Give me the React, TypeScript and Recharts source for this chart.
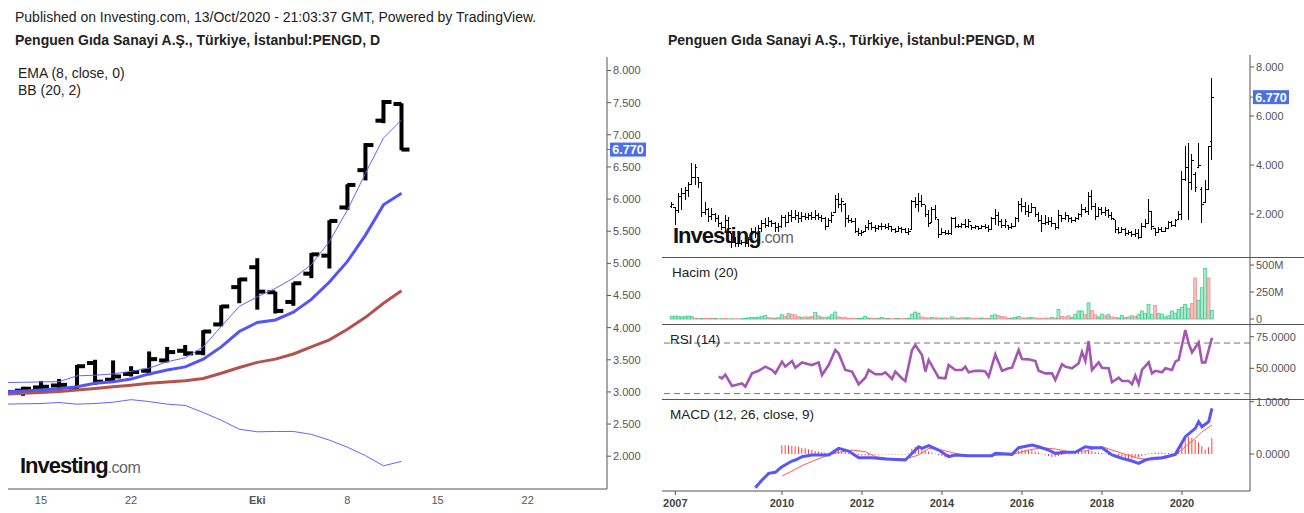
import { Bar, ComposedChart, Line, ReferenceLine, XAxis, YAxis } from "recharts";

const FONT = '"Liberation Sans", Arial, Helvetica, sans-serif';
const AXIS = "#555";
const TICK = "#555";

// ---- daily chart (left), index 0 = 11 Sep 2020 ----
const dayOpen = [3.00, 3.02, 3.07, 3.10, 3.05, 3.45, 3.19, 3.28, 3.33, 3.49, 3.64, 3.61, 4.05, 4.63, 4.94, 4.55, 4.40, 4.84, 5.12, 5.87, 6.45, 7.22, 7.48];
const dayHigh = [3.02, 3.08, 3.17, 3.20, 3.42, 3.50, 3.49, 3.40, 3.63, 3.70, 3.73, 3.96, 4.35, 4.77, 5.08, 4.56, 4.70, 5.16, 5.67, 6.23, 6.87, 7.54, 7.49];
const dayLow = [2.98, 2.94, 2.98, 3.02, 3.02, 3.11, 3.14, 3.24, 3.26, 3.46, 3.56, 3.57, 4.02, 4.38, 4.28, 4.22, 4.34, 4.77, 4.92, 5.83, 6.29, 7.18, 6.76];
const dayClose = [3.00, 3.05, 3.08, 3.11, 3.40, 3.16, 3.24, 3.31, 3.51, 3.62, 3.60, 3.94, 4.33, 4.75, 4.56, 4.26, 4.69, 5.14, 5.66, 6.22, 6.84, 7.51, 6.77];
const ema8 = [3.00, 3.015, 3.03, 3.05, 3.08, 3.135, 3.16, 3.20, 3.28, 3.34, 3.39, 3.51, 3.70, 3.94, 4.08, 4.12, 4.24, 4.44, 4.71, 5.03, 5.44, 5.91, 6.09];
const bbUpper = [3.145, 3.15, 3.155, 3.16, 3.25, 3.26, 3.28, 3.32, 3.37, 3.47, 3.53, 3.70, 4.02, 4.33, 4.48, 4.61, 4.77, 4.98, 5.34, 5.83, 6.40, 6.95, 7.23];
const bbBasis = [2.965, 2.98, 2.99, 3.005, 3.03, 3.055, 3.08, 3.105, 3.135, 3.155, 3.175, 3.21, 3.29, 3.38, 3.46, 3.51, 3.59, 3.70, 3.81, 3.975, 4.16, 4.38, 4.575];
const bbLower = [2.81, 2.815, 2.82, 2.835, 2.81, 2.82, 2.84, 2.88, 2.85, 2.81, 2.79, 2.68, 2.56, 2.42, 2.38, 2.385, 2.385, 2.34, 2.25, 2.14, 2.01, 1.85, 1.92];
const dayTickIdx = [2, 7, 14, 19, 24, 29];
const dayTickLabel = ["15", "22", "Eki", "8", "15", "22"];
const dayPriceTicks = [2, 2.5, 3, 3.5, 4, 4.5, 5, 5.5, 6, 6.5, 7, 7.5, 8];

// ---- monthly chart (right), index 0 = Apr 2007 ----
const mOpen = [
  2.30, 2.28, 2.15, 2.70, 2.85, 2.95, 3.20, 3.50, 3.50, 3.30,
  2.05, 2.20, 1.90, 2.00, 1.80, 1.60, 1.45, 1.75, 1.20, 0.85,
  0.80, 0.78, 0.85, 0.80, 0.95, 1.30, 1.21, 1.40, 1.60, 1.55,
  1.70, 1.60, 1.45, 1.50, 1.85, 1.65, 1.95, 1.85, 1.95, 1.80,
  1.90, 1.85, 1.95, 1.85, 1.95, 1.85, 1.80, 1.50, 1.75, 2.05,
  2.60, 2.40, 2.40, 1.80, 1.75, 1.70, 1.30, 1.20, 1.30, 1.45,
  1.60, 1.45, 1.42, 1.48, 1.50, 1.45, 1.48, 1.35, 1.30, 1.40,
  1.35, 1.25, 1.35, 2.50, 2.40, 2.50, 2.37, 2.00, 1.65, 2.20,
  1.76, 1.15, 1.25, 1.20, 1.22, 1.80, 1.50, 1.48, 1.58, 1.50,
  1.55, 1.45, 1.48, 1.40, 1.50, 1.45, 1.35, 1.80, 1.95, 1.70,
  1.55, 1.55, 1.45, 1.50, 1.80, 2.40, 2.30, 2.10, 2.05, 2.25,
  2.00, 1.75, 1.60, 1.65, 1.70, 1.60, 1.45, 1.95, 1.80, 1.95,
  1.80, 1.75, 1.80, 2.00, 2.20, 2.10, 2.70, 2.30, 1.90, 2.20,
  2.05, 2.15, 1.95, 1.76, 1.35, 1.25, 1.35, 1.20, 1.25, 1.15,
  1.20, 1.05, 1.50, 1.62, 2.10, 1.42, 1.25, 1.35, 1.30, 1.40,
  1.65, 1.55, 1.76, 2.00, 3.40, 3.90, 3.30, 3.60, 3.90, 3.00,
  2.45, 3.00, 4.94,
];
const mHigh = [
  2.50, 2.30, 2.84, 3.05, 3.11, 3.32, 4.07, 4.03, 3.52, 3.32,
  2.50, 2.23, 2.23, 2.03, 1.96, 1.69, 1.96, 1.89, 1.21, 1.07,
  0.95, 0.95, 1.14, 1.07, 1.42, 1.48, 1.55, 1.76, 1.83, 1.89,
  1.76, 1.69, 1.62, 1.96, 1.96, 2.09, 2.16, 2.16, 2.09, 2.09,
  2.03, 2.03, 2.09, 2.16, 2.03, 1.96, 1.89, 1.83, 2.09, 2.78,
  2.84, 2.64, 2.44, 1.96, 1.83, 1.83, 1.42, 1.35, 1.55, 1.76,
  1.69, 1.55, 1.55, 1.62, 1.58, 1.62, 1.48, 1.42, 1.52, 1.48,
  1.42, 1.42, 2.57, 2.71, 2.84, 2.78, 2.37, 2.16, 2.30, 2.37,
  1.76, 1.42, 1.35, 1.35, 1.87, 1.87, 1.58, 1.62, 1.80, 1.80,
  1.55, 1.55, 1.52, 1.55, 1.58, 1.55, 1.89, 2.20, 2.10, 1.80,
  1.80, 1.55, 1.62, 1.87, 2.54, 2.64, 2.50, 2.37, 2.44, 2.30,
  2.10, 1.96, 1.96, 1.87, 1.87, 1.62, 2.16, 1.96, 2.10, 1.96,
  1.89, 1.89, 2.05, 2.41, 2.30, 2.91, 2.98, 2.44, 2.30, 2.30,
  2.30, 2.20, 2.10, 1.76, 1.48, 1.48, 1.42, 1.35, 1.30, 1.37,
  1.37, 1.62, 1.80, 2.60, 2.14, 1.42, 1.45, 1.48, 1.45, 1.73,
  1.70, 1.80, 2.14, 3.77, 4.78, 4.91, 4.45, 3.70, 4.89, 3.11,
  3.39, 4.77, 7.54,
];
const mLow = [
  2.23, 1.55, 2.03, 2.16, 2.57, 2.71, 3.18, 3.18, 3.05, 1.89,
  1.96, 1.69, 1.76, 1.69, 1.48, 1.35, 1.28, 1.21, 0.60, 0.67,
  0.67, 0.72, 0.67, 0.67, 0.94, 1.01, 1.21, 1.28, 1.42, 1.48,
  1.48, 1.28, 1.28, 1.42, 1.48, 1.62, 1.69, 1.76, 1.62, 1.69,
  1.76, 1.76, 1.76, 1.76, 1.76, 1.69, 1.35, 1.48, 1.62, 2.03,
  2.23, 2.09, 1.48, 1.62, 1.62, 1.21, 1.10, 1.10, 1.28, 1.35,
  1.35, 1.28, 1.35, 1.35, 1.38, 1.35, 1.28, 1.21, 1.28, 1.24,
  1.21, 1.14, 1.35, 2.23, 2.09, 2.30, 1.89, 1.48, 1.62, 1.76,
  1.01, 1.14, 1.14, 1.14, 1.14, 1.42, 1.42, 1.44, 1.42, 1.42,
  1.35, 1.38, 1.35, 1.40, 1.40, 1.28, 1.35, 1.55, 1.50, 1.42,
  1.42, 1.35, 1.40, 1.48, 1.69, 2.10, 1.96, 1.89, 2.03, 1.89,
  1.69, 1.28, 1.55, 1.55, 1.48, 1.35, 1.37, 1.69, 1.76, 1.69,
  1.62, 1.69, 1.75, 1.87, 2.03, 1.96, 2.16, 1.76, 1.90, 1.95,
  1.90, 1.85, 1.76, 1.24, 1.19, 1.25, 1.10, 1.15, 1.06, 1.06,
  1.00, 1.01, 1.42, 1.62, 1.35, 1.10, 1.25, 1.28, 1.25, 1.39,
  1.45, 1.48, 1.76, 1.76, 3.36, 1.76, 2.98, 2.90, 3.87, 1.65,
  2.44, 2.98, 4.22,
];
const mClose = [
  2.38, 2.15, 2.70, 2.85, 2.95, 3.20, 3.50, 3.90, 3.30, 2.05,
  2.20, 1.90, 2.00, 1.80, 1.60, 1.45, 1.75, 1.40, 0.85, 0.80,
  0.78, 0.85, 0.80, 0.95, 1.30, 1.20, 1.40, 1.60, 1.55, 1.70,
  1.60, 1.45, 1.50, 1.85, 1.65, 1.95, 1.85, 1.95, 1.80, 1.90,
  1.85, 1.95, 1.85, 1.95, 1.85, 1.80, 1.50, 1.75, 1.95, 2.60,
  2.40, 2.50, 1.80, 1.75, 1.70, 1.30, 1.20, 1.25, 1.45, 1.60,
  1.45, 1.42, 1.48, 1.50, 1.45, 1.50, 1.35, 1.30, 1.40, 1.35,
  1.25, 1.30, 2.50, 2.40, 2.50, 2.40, 2.00, 1.60, 2.20, 1.85,
  1.15, 1.25, 1.20, 1.22, 1.80, 1.50, 1.48, 1.58, 1.50, 1.70,
  1.45, 1.48, 1.40, 1.50, 1.45, 1.35, 1.80, 1.95, 1.70, 1.55,
  1.70, 1.45, 1.50, 1.80, 2.40, 2.30, 2.10, 2.05, 2.25, 2.00,
  1.75, 1.60, 1.65, 1.70, 1.60, 1.45, 1.95, 1.80, 1.95, 1.80,
  1.75, 1.80, 2.00, 2.20, 2.10, 2.70, 2.30, 1.90, 2.20, 2.05,
  2.15, 1.95, 1.80, 1.35, 1.25, 1.35, 1.20, 1.25, 1.15, 1.20,
  1.05, 1.50, 1.60, 2.10, 1.50, 1.25, 1.35, 1.30, 1.40, 1.65,
  1.55, 1.75, 2.00, 3.40, 3.90, 3.30, 4.20, 3.10, 4.00, 2.40,
  3.00, 4.75, 6.77,
];
// volume in millions, G = green bar, R = red bar
const mVolume = [
  25, 28, 22, 20, 25, 28, 22, 8, 6, 5,
  6, 5, 4, 5, 3, 3, 4, 2, 3, 3,
  2, 3, 4, 12, 15, 14, 18, 22, 35, 14,
  10, 8, 15, 40, 25, 50, 42, 38, 22, 15,
  20, 18, 25, 60, 30, 18, 15, 20, 40, 65,
  20, 15, 18, 8, 6, 5, 5, 8, 25, 10,
  8, 5, 8, 15, 5, 4, 3, 4, 5, 3,
  4, 6, 45, 65, 55, 20, 12, 10, 15, 12,
  10, 8, 10, 8, 20, 10, 8, 12, 10, 12,
  8, 6, 8, 10, 6, 5, 30, 40, 32, 25,
  20, 8, 10, 15, 25, 12, 10, 12, 15, 10,
  8, 6, 10, 8, 15, 10, 90, 25, 20, 30,
  15, 40, 75, 75, 40, 150, 80, 40, 20, 45,
  30, 40, 20, 15, 10, 35, 15, 20, 30, 25,
  40, 75, 50, 135, 40, 125, 50, 45, 20, 30,
  75, 55, 90, 110, 135, 100, 145, 380, 175, 290,
  470, 380, 80,
];
const mVolumeSide =
  "GGGGGGGRRG" + "RRRGRGRRGR" + "RGGGGGGGGR" + "RGRGRGRRRG" + "RGRGRGRGGG" +
  "RRRRRRGGGG" + "RRGGRGRRGR" + "RGGGGRRRGR" + "RGRRGRGRGG" + "RRRGRRGGRR" +
  "RRGGGRRGGR" + "RRRRGRGRRR" + "GGGGRGRRGG" + "RGRRGGGRGR" + "GGGGGRGGGG" +
  "GGGGGGRRGG" + "GRG";

const rsiMonth = [14, 15, 16, 18, 20, 21, 22, 24, 26, 28, 30, 31, 33, 34, 36, 37, 39, 41, 42, 44, 45, 47, 49, 50, 52, 54, 56, 58, 59, 61, 63, 64, 66, 67, 69, 70, 72, 73, 75, 76, 77, 80, 82, 83, 85, 87, 88, 89, 91, 93, 94, 95, 97, 99, 101, 102, 104, 105, 107, 109, 110, 112, 114, 115, 117, 118, 120, 122, 123, 124, 125, 126, 128, 129, 131, 132, 134, 135, 137, 138, 139, 140, 141, 143, 144, 145, 147, 148, 150, 151, 152, 154, 155, 156, 158, 159, 160, 162];
const rsiValue = [43.4, 42, 45, 36, 37.4, 38, 35.5, 46, 48, 51.3, 48.7, 46, 55.3, 51.3, 55.8, 50.5, 54.7, 53.2, 52.6, 54.7, 44.7, 52.6, 64.5, 61.8, 48.7, 47.4, 37.4, 42.6, 48.7, 45.3, 45.3, 46.8, 41.6, 47.4, 42, 40, 64.5, 68.4, 60.5, 47.4, 56.6, 42.6, 42, 52.6, 48.7, 48.7, 51.3, 46.8, 48, 48, 47.4, 43.4, 61, 48, 50, 50.5, 64.5, 57.4, 57.1, 55.8, 48, 46, 46, 40.8, 53.2, 51.3, 50, 54, 63, 55.8, 71.6, 48.7, 54.7, 50.5, 50, 39, 42.6, 40, 40, 37.4, 44.2, 37.4, 48.7, 54.7, 46, 48, 46.8, 50, 48.7, 55.3, 56.6, 80.3, 69.7, 62.6, 70.5, 54.7, 54.7, 74.2];

const macdMonth = [25, 27, 29, 31, 33, 36, 37, 39, 42, 45, 47, 50, 53, 56, 60, 64, 70, 74, 75, 77, 80, 83, 85, 89, 96, 97, 102, 104, 108, 110, 113, 115, 118, 121, 124, 126, 129, 132, 135, 138, 140, 142, 144, 147, 151, 154, 156, 157, 158, 159, 161, 162];
const macdValue = [-0.643, -0.497, -0.369, -0.35, -0.242, -0.134, -0.115, -0.051, -0.019, -0.019, -0.019, 0.108, 0.057, -0.07, -0.07, -0.096, -0.115, 0.14, 0.108, 0.159, 0.076, -0.051, -0.019, -0.032, -0.032, 0.013, -0.006, 0.121, 0.172, 0.14, 0.076, 0.013, 0.032, 0.032, 0.14, 0.121, 0.121, -0.019, -0.083, -0.134, -0.178, -0.115, -0.083, -0.07, -0.006, 0.331, 0.439, 0.49, 0.618, 0.522, 0.618, 0.873];
const signalMonth = [33, 36, 39, 43, 47, 50, 54, 58, 61, 65, 70, 74, 77, 81, 85, 89, 96, 102, 107, 111, 115, 119, 124, 129, 132, 136, 140, 144, 148, 151, 154, 157, 159, 162];
const signalValue = [-0.42, -0.325, -0.223, -0.115, -0.019, 0.032, 0.076, 0.045, -0.051, -0.083, -0.096, -0.019, 0.108, 0.076, 0.013, -0.032, -0.032, -0.006, 0.076, 0.121, 0.096, 0.045, 0.057, 0.14, 0.076, -0.006, -0.083, -0.115, -0.083, -0.019, 0.14, 0.299, 0.427, 0.554];
// histogram, months 33..162
const macdHist = [
  0.17, 0.17, 0.17, 0.16, 0.15, 0.14, 0.12, 0.11, 0.09, 0.08,
  0.06, 0.05, 0.04, 0.03, 0.02, 0.02, 0.05, 0.07, 0.06, 0.04,
  0.02, 0.01, -0.01, -0.02, -0.03, -0.03, -0.03, -0.02, -0.02, -0.01,
  -0.01, -0.01, -0.01, -0.01, -0.01, -0.01, -0.01, -0.01, 0.01, 0.10,
  0.14, 0.12, 0.09, 0.07, 0.05, 0.03, 0.01, -0.02, -0.04, -0.06,
  -0.05, -0.04, -0.03, -0.02, -0.01, -0.01, 0, 0, 0, 0,
  0, -0.005, 0.005, 0.01, 0.03, 0.02, 0.01, 0.01, 0.01, 0.02,
  0.04, 0.06, 0.08, 0.08, 0.07, 0.07, 0.05, 0.03, 0.01, -0.02,
  -0.04, -0.06, -0.05, -0.04, -0.02, -0.01, -0.01, 0.01, 0.02, 0.04,
  0.06, 0.07, 0.08, 0.06, 0.04, 0.03, 0.02, 0.01, -0.02, -0.04,
  -0.06, -0.08, -0.09, -0.10, -0.10, -0.09, -0.08, -0.06, -0.04, -0.02,
  0.01, 0.02, 0.03, 0.03, 0.03, 0.02, 0.02, 0.01, 0.02, 0.08,
  0.20, 0.34, 0.33, 0.31, 0.27, 0.22, 0.15, 0.08, 0.13, 0.30,
];
const yearTickIdx = [1, 33, 57, 81, 105, 129, 153];
const yearTickLabel = ["2007", "2010", "2012", "2014", "2016", "2018", "2020"];

const MONTH_DOMAIN: [number, number] = [-3, 173.4];

const dayRows = dayOpen.map((o, i) => ({
  i, o, h: dayHigh[i], l: dayLow[i], c: dayClose[i],
  ema: ema8[i], up: bbUpper[i], mid: bbBasis[i], lo: bbLower[i],
}));
const monthRows = mOpen.map((o, m) => ({
  m, o, h: mHigh[m], l: mLow[m], c: mClose[m],
  vol: mVolume[m], green: mVolumeSide[m] !== "R",
}));
const rsiRows = rsiMonth.map((m, k) => ({ m, rsi: rsiValue[k] }));
const macdRows: any[] = [];
for (let m = 25; m <= 162; m++) {
  const a = macdMonth.indexOf(m);
  const s = signalMonth.indexOf(m);
  macdRows.push({
    m,
    macd: a >= 0 ? macdValue[a] : undefined,
    signal: s >= 0 ? signalValue[s] : undefined,
    hist: m >= 33 ? macdHist[m - 33] : undefined,
  });
}

function ohlcShape(lineW: number, tickW: number) {
  return (props: any) => {
    const { x, y, width, height, payload } = props;
    if (!payload || height == null) return <g />;
    const top = Math.min(y, y + height);
    const span = Math.abs(height);
    const range = payload.h - payload.l || 1;
    const py = (v: number) => top + ((payload.h - v) / range) * span;
    const cx = x + width / 2;
    const half = lineW / 2;
    return (
      <g fill="#000" shapeRendering={lineW < 2 ? "crispEdges" : undefined}>
        <rect x={cx - half} y={top} width={lineW} height={Math.max(span, 1)} />
        <rect x={cx - half - tickW} y={py(payload.o) - half} width={tickW + half} height={lineW} />
        <rect x={cx} y={py(payload.c) - half} width={tickW + half} height={lineW} />
      </g>
    );
  };
}

const volumeShape = (props: any) => {
  const { x, y, width, height, payload } = props;
  if (!payload || !height) return <g />;
  const g = payload.green;
  return (
    <rect
      x={x}
      y={Math.min(y, y + height)}
      width={width}
      height={Math.abs(height)}
      fill={g ? "#a7e9cc" : "#f9bdbd"}
      stroke={g ? "#35c98a" : "#f38a8a"}
      strokeWidth={0.7}
    />
  );
};

function priceTag(label: string) {
  return (props: any) => {
    const vb = props.viewBox || {};
    const left = (vb.x || 0) + (vb.width || 0);
    const y = vb.y || 0;
    return (
      <g>
        <rect x={left} y={y - 0.5} width={4} height={1} fill="#4b6fe4" />
        <rect x={left + 3} y={y - 7} width={36} height={14} fill="#4b6fe4" />
        <text x={left + 21} y={y + 4.5} fill="#fff" fontSize={12.5} fontWeight="bold" textAnchor="middle" fontFamily={FONT}>
          {label}
        </text>
      </g>
    );
  };
}

function DayTick(props: any) {
  const { x, y, payload } = props;
  const label = dayTickLabel[dayTickIdx.indexOf(payload.value)] ?? "";
  return (
    <text x={x} y={y} dy={9} textAnchor="middle" fontSize={11} fill={TICK} fontFamily={FONT} fontWeight={label === "Eki" ? "bold" : "normal"}>
      {label}
    </text>
  );
}

function YearTick(props: any) {
  const { x, y, payload } = props;
  const label = yearTickLabel[yearTickIdx.indexOf(payload.value)] ?? "";
  return (
    <text x={x} y={y} dy={10} textAnchor="middle" fontSize={11} fill="#444" fontFamily={FONT} fontWeight="bold">
      {label}
    </text>
  );
}

const yTick = { fontSize: 11, fill: TICK, fontFamily: FONT };

function Label(props: { x: number; y: number; text: string; bold?: boolean; size?: number }) {
  return (
    <div
      style={{
        position: "absolute",
        left: props.x,
        top: props.y,
        fontSize: props.size ?? 14,
        lineHeight: "16px",
        fontWeight: props.bold ? "bold" : "normal",
        color: "#222",
        whiteSpace: "nowrap",
        fontFamily: FONT,
      }}
    >
      {props.text}
    </div>
  );
}

function Logo(props: { x: number; y: number }) {
  return (
    <div style={{ position: "absolute", left: props.x, top: props.y, whiteSpace: "nowrap", fontFamily: FONT, lineHeight: "26px" }}>
      <span style={{ fontSize: 22, fontWeight: "bold", color: "#111", letterSpacing: -1 }}>Investing</span>
      <span style={{ fontSize: 16, color: "#666", letterSpacing: -0.5 }}>.com</span>
    </div>
  );
}

function Sep(props: { y: number }) {
  return <div style={{ position: "absolute", left: 662, top: props.y, width: 642, height: 1, background: "#555" }} />;
}

const panel = (top: number, height: number) =>
  ({ position: "absolute", left: 655, top, width: 649, height } as const);

const rightMargin = { top: 0, right: 0, bottom: 0, left: 7 };

export default function App() {
  return (
    <div style={{ position: "absolute", left: 0, top: 0, width: 1304, height: 513, background: "#fff", fontFamily: FONT, overflow: "hidden" }}>
      <Label x={15} y={9} text="Published on Investing.com, 13/Oct/2020 - 21:03:37 GMT, Powered by TradingView." />
      <Label x={15} y={32} bold text="Penguen Gıda Sanayi A.Ş., Türkiye, İstanbul:PENGD, D" />
      <Label x={668} y={32} bold text="Penguen Gıda Sanayi A.Ş., Türkiye, İstanbul:PENGD, M" />

      {/* daily chart */}
      <div style={{ position: "absolute", left: 0, top: 0, width: 660, height: 513 }}>
        <ComposedChart width={660} height={513} data={dayRows} margin={{ top: 57, right: 3, bottom: 0, left: 8 }}>
          <XAxis
            type="number"
            dataKey="i"
            domain={[0.17, 33.4]}
            allowDataOverflow
            ticks={dayTickIdx}
            interval={0}
            tick={<DayTick />}
            tickLine={false}
            tickSize={4}
            tickMargin={2}
            height={24}
            stroke={AXIS}
          />
          <YAxis
            orientation="right"
            width={50}
            domain={[1.49, 8.21]}
            allowDataOverflow
            ticks={dayPriceTicks}
            interval={0}
            tickFormatter={(v: number) => v.toFixed(3)}
            tick={yTick}
            tickSize={4}
            tickMargin={2}
            stroke={AXIS}
          />
          <Line dataKey="up" stroke="#6464ff" strokeWidth={1} dot={false} activeDot={false} isAnimationActive={false} />
          <Line dataKey="lo" stroke="#6464ff" strokeWidth={1} dot={false} activeDot={false} isAnimationActive={false} />
          <Line dataKey="mid" stroke="#b5524e" strokeWidth={3} dot={false} activeDot={false} isAnimationActive={false} />
          <Line dataKey="ema" stroke="#5555f6" strokeWidth={3} dot={false} activeDot={false} isAnimationActive={false} />
          <Bar dataKey={(d: any) => [d.l, d.h]} barSize={18} shape={ohlcShape(4, 6)} isAnimationActive={false} />
          <ReferenceLine y={dayClose[dayClose.length - 1]} stroke="none" label={priceTag("6.770")} />
        </ComposedChart>
      </div>
      <Label x={18} y={65} text="EMA (8, close, 0)" />
      <Label x={18} y={82} text="BB (20, 2)" />

      {/* monthly price */}
      <div style={panel(55, 202)}>
        <ComposedChart width={649} height={202} data={monthRows} margin={rightMargin}>
          <XAxis type="number" dataKey="m" domain={MONTH_DOMAIN} allowDataOverflow hide />
          <YAxis
            orientation="right"
            width={54}
            domain={[0.245, 8.49]}
            allowDataOverflow
            ticks={[2, 4, 6, 8]}
            interval={0}
            tickFormatter={(v: number) => v.toFixed(3)}
            tick={yTick}
            tickSize={4}
            tickMargin={2}
            stroke={AXIS}
          />
          <Bar dataKey={(d: any) => [d.l, d.h]} barSize={3} shape={ohlcShape(1, 1.5)} isAnimationActive={false} />
          <ReferenceLine y={mClose[mClose.length - 1]} stroke="none" label={priceTag("6.770")} />
        </ComposedChart>
      </div>

      {/* volume */}
      <div style={panel(258, 66)}>
        <ComposedChart width={649} height={66} data={monthRows} margin={rightMargin}>
          <XAxis type="number" dataKey="m" domain={MONTH_DOMAIN} allowDataOverflow hide />
          <YAxis
            orientation="right"
            width={54}
            domain={[-46, 565]}
            allowDataOverflow
            ticks={[0, 250, 500]}
            interval={0}
            tickFormatter={(v: number) => (v === 0 ? "0" : `${v}M`)}
            tick={yTick}
            tickSize={4}
            tickMargin={2}
            stroke={AXIS}
          />
          <Bar dataKey="vol" barSize={3} shape={volumeShape} isAnimationActive={false} />
        </ComposedChart>
      </div>

      {/* RSI */}
      <div style={panel(325, 74)}>
        <ComposedChart width={649} height={74} data={rsiRows} margin={rightMargin}>
          <XAxis type="number" dataKey="m" domain={MONTH_DOMAIN} allowDataOverflow hide />
          <YAxis
            orientation="right"
            width={54}
            domain={[25.7, 84.3]}
            allowDataOverflow
            ticks={[50, 75]}
            interval={0}
            tickFormatter={(v: number) => v.toFixed(4)}
            tick={yTick}
            tickSize={4}
            tickMargin={2}
            stroke={AXIS}
          />
          <ReferenceLine y={70} stroke="#777" strokeDasharray="6 4" />
          <ReferenceLine y={30} stroke="#777" strokeDasharray="6 4" />
          <Line dataKey="rsi" stroke="#a356b4" strokeWidth={2.6} dot={false} activeDot={false} isAnimationActive={false} />
        </ComposedChart>
      </div>

      {/* MACD: svg starts above the panel so the top tick label is not cut */}
      <div style={panel(392, 121)}>
        <ComposedChart width={649} height={121} data={macdRows} margin={{ top: 8, right: 0, bottom: 0, left: 7 }}>
          <XAxis
            type="number"
            dataKey="m"
            domain={MONTH_DOMAIN}
            allowDataOverflow
            ticks={yearTickIdx}
            interval={0}
            tick={<YearTick />}
            tickSize={4}
            tickMargin={2}
            height={22}
            stroke={AXIS}
          />
          <YAxis
            orientation="right"
            width={54}
            domain={[-0.707, 1.033]}
            allowDataOverflow
            ticks={[0, 1]}
            interval={0}
            tickFormatter={(v: number) => v.toFixed(4)}
            tick={yTick}
            tickSize={4}
            tickMargin={2}
            stroke={AXIS}
          />
          <Bar dataKey="hist" barSize={1} fill="#ff4040" isAnimationActive={false} />
          <Line dataKey="signal" stroke="#ff5a5a" strokeWidth={1} dot={false} activeDot={false} connectNulls isAnimationActive={false} />
          <Line dataKey="macd" stroke="#5757f7" strokeWidth={3} dot={false} activeDot={false} connectNulls isAnimationActive={false} />
        </ComposedChart>
      </div>

      <Sep y={257} />
      <Sep y={324} />
      <Sep y={399} />

      <Label x={672} y={265} size={13.5} text="Hacim (20)" />
      <Label x={670} y={332} size={13.5} text="RSI (14)" />
      <Label x={670} y={407} size={13.5} text="MACD (12, 26, close, 9)" />

      <Logo x={20} y={453} />
      <Logo x={673} y={223} />
    </div>
  );
}
